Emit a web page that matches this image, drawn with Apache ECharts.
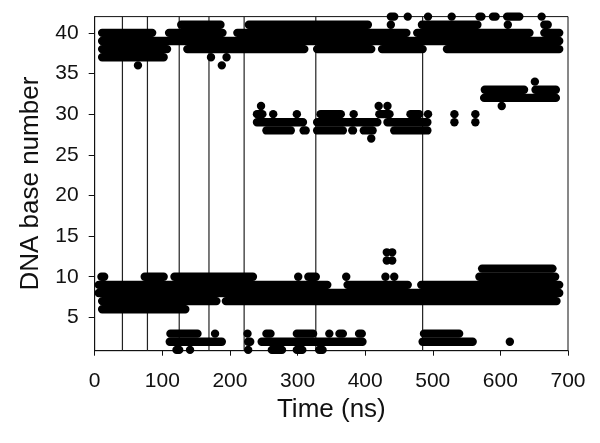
<!DOCTYPE html>
<html>
<head>
<meta charset="utf-8">
<script src="https://cdn.jsdelivr.net/npm/echarts@6/dist/echarts.min.js"></script>
<style>
html,body{margin:0;padding:0;background:#fff;}
#chart{width:600px;height:443px;}
</style>
</head>
<body>
<div id="chart"></div>
<script>
// Occupancy runs: [DNA base number, first time (ns), last time (ns)]
const runsTop = [
  [42,438,443],[42,463,463],[42,493,493],[42,528,528],[42,569,572],[42,589,593],[42,610,628],[42,661,661],
  [41,128,186],[41,228,404],[41,438,438],[41,484,566],[41,611,611],[41,665,670],
  [40,11,85],[40,110,189],[40,211,461],[40,477,643],[40,665,687],
  [39,11,687],
  [38,11,107],[38,137,310],[38,329,409],[38,425,485],[38,521,687],
  [37,11,102],[37,172,172],[37,195,195],
  [36,64,64],[36,188,188]
];
const runsMid = [
  [34,651,651],
  [33,577,635],[33,652,682],
  [32,576,682],
  [31,246,246],[31,420,420],[31,433,433],[31,602,602],
  [30,240,248],[30,264,264],[30,299,299],[30,334,364],[30,383,383],[30,421,436],[30,467,480],[30,493,493],[30,532,532],[30,563,563],
  [29,240,308],[29,329,418],[29,433,492],[29,532,532],[29,563,563],
  [28,254,290],[28,309,312],[28,329,367],[28,381,382],[28,398,411],[28,443,492],
  [27,409,409]
];
const runsLow = [
  [13,432,432],[13,440,440],
  [12,432,432],[12,440,440],
  [11,573,677],
  [10,10,14],[10,74,102],[10,118,234],[10,301,301],[10,316,327],[10,372,372],[10,430,430],[10,443,443],[10,569,681],
  [9,6,344],[9,374,463],[9,483,687],
  [8,6,687],
  [7,11,180],[7,194,683],
  [6,11,134],
  [3,112,152],[3,178,178],[3,226,226],[3,254,260],[3,299,323],[3,347,347],[3,362,367],[3,391,395],[3,487,539],
  [2,111,188],[2,227,230],[2,247,396],[2,485,559],[2,614,614],
  [1,121,125],[1,141,141],[1,227,227],[1,262,277],[1,299,307],[1,332,337]
];
const transitionTimes = [41, 78, 125, 169, 221, 327, 485];
const yTicks = [5, 10, 15, 20, 25, 30, 35, 40];
const xRange = [0, 700];
const yRange = [0.9, 42];

const FONT = 'Arial, "Liberation Sans", sans-serif';
const chart = echarts.init(document.getElementById('chart'), null, {renderer: 'canvas'});

function dotRun(params, api) {
  const y = api.value(0);
  const p1 = api.coord([api.value(1), y]);
  const p2 = api.coord([api.value(2), y]);
  const r = 4.2;
  return {
    type: 'rect',
    shape: {x: p1[0] - r, y: p1[1] - r, width: p2[0] - p1[0] + 2 * r, height: 2 * r, r: r},
    style: {fill: '#000'}
  };
}

const allRuns = runsTop.concat(runsMid, runsLow);

chart.setOption({
  animation: false,
  backgroundColor: '#fff',
  grid: {left: 94.7, right: 32, top: 16.6, bottom: 92.3, show: true, borderColor: '#111', borderWidth: 1, backgroundColor: 'transparent'},
  xAxis: {
    type: 'value', min: xRange[0], max: xRange[1], interval: 100,
    name: 'Time (ns)', nameLocation: 'middle', nameGap: 46,
    nameTextStyle: {fontFamily: FONT, fontSize: 26, color: '#111'},
    axisLine: {show: true, onZero: false, lineStyle: {color: '#111', width: 1}},
    axisTick: {show: true, inside: false, length: 5, lineStyle: {color: '#111'}},
    axisLabel: {fontFamily: FONT, fontSize: 21, color: '#111', margin: 20},
    splitLine: {show: false}
  },
  yAxis: {
    type: 'value', min: yRange[0], max: yRange[1],
    name: 'DNA base number', nameLocation: 'middle', nameGap: 51,
    nameTextStyle: {fontFamily: FONT, fontSize: 26, color: '#111'},
    axisLine: {show: true, onZero: false, lineStyle: {color: '#111', width: 1}},
    axisTick: {show: true, length: 6, customValues: yTicks, lineStyle: {color: '#111'}},
    axisLabel: {fontFamily: FONT, fontSize: 21, color: '#111', margin: 16, customValues: yTicks},
    splitLine: {show: false}
  },
  series: [
    {
      type: 'custom',
      clip: false,
      silent: true,
      data: transitionTimes,
      renderItem: function (params, api) {
        const x = api.coord([api.value(0), yRange[0]])[0];
        const cs = params.coordSys;
        return {
          type: 'line',
          shape: {x1: x, y1: cs.y, x2: x, y2: cs.y + cs.height},
          style: {stroke: '#222', lineWidth: 1.2}
        };
      },
      z: 1
    },
    {
      type: 'custom',
      clip: false,
      silent: true,
      data: allRuns,
      renderItem: dotRun,
      z: 2
    }
  ]
});
</script>
</body>
</html>
